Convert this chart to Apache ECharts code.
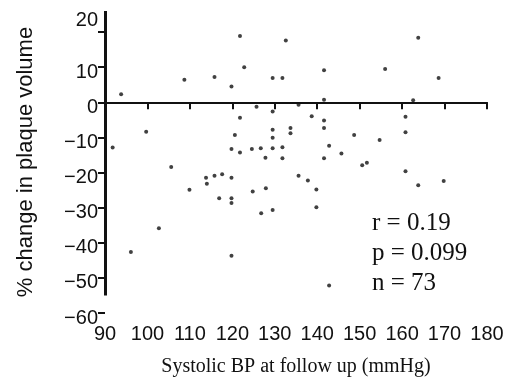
<!DOCTYPE html>
<html>
<head>
<meta charset="utf-8">
<script src="https://cdn.jsdelivr.net/npm/echarts@6/dist/echarts.min.js"></script>
<style>
html, body { margin: 0; padding: 0; background: #fff; }
#chart { width: 509px; height: 385px; }
</style>
</head>
<body>
<div id="chart"></div>
<script>
// systolic BP at follow up (mmHg) and % change in plaque volume
var systolicBP = [
  121.8, 132.6, 122.8, 108.7, 115.8, 129.5, 131.8, 119.8, 93.8, 125.7,
  129.5, 135.6, 121.8, 99.7, 120.6, 129.5, 133.7, 133.7, 129.5, 91.8,
  119.8, 121.8, 124.6, 126.7, 129.5, 131.8, 127.8, 131.8, 105.6, 113.8,
  115.8, 117.6, 119.8, 114.0, 135.6, 109.9, 124.8, 127.9, 116.9, 119.8,
  119.8, 126.8, 129.5, 102.7, 96.1, 119.8,
  163.8, 141.6, 156.0, 168.6, 141.6, 162.6, 138.7, 141.6, 141.6, 160.8,
  160.8, 148.7, 154.7, 142.8, 145.7, 141.6, 150.6, 151.7, 137.8, 139.8,
  160.8, 163.8, 169.8, 139.8, 142.8
];
var plaqueChange = [
  18.9, 17.6, 10.0, 6.4, 7.2, 6.9, 6.9, 4.5, 2.3, -1.3,
  -2.6, -0.7, -4.4, -8.4, -9.3, -7.8, -7.3, -8.8, -10.1, -12.9,
  -13.3, -14.3, -13.3, -13.1, -13.1, -12.8, -15.8, -15.9, -18.4, -21.5,
  -20.9, -20.5, -21.5, -23.2, -20.9, -24.9, -25.4, -24.5, -27.3, -27.3,
  -28.7, -31.6, -30.7, -35.9, -42.6, -43.7,
  18.4, 9.1, 9.5, 6.9, 0.7, 0.6, -4.0, -5.2, -7.3, -4.1,
  -8.5, -9.3, -10.7, -12.4, -14.6, -15.9, -17.9, -17.2, -22.3, -24.8,
  -19.6, -23.6, -22.4, -29.9, -52.2
];
var yTicks = [-60, -50, -40, -30, -20, -10, 0, 10, 20];
var statLines = ['r = 0.19', 'p = 0.099', 'n = 73'];

var points = systolicBP.map(function (x, i) { return [x, plaqueChange[i]]; });

var sans = '"Liberation Sans", Arial, sans-serif';
var serif = '"Liberation Serif", "Times New Roman", serif';

var chart = echarts.init(document.getElementById('chart'));
var option = {
  animation: false,
  backgroundColor: '#fff',
  grid: { left: 105, right: 22, top: 11, bottom: 72 },
  xAxis: {
    type: 'value',
    min: 90,
    max: 180,
    interval: 10,
    name: 'Systolic BP at follow up (mmHg)',
    nameLocation: 'middle',
    nameGap: 44,
    nameTextStyle: { fontFamily: serif, fontSize: 20, color: '#111' },
    splitLine: { show: false },
    axisLine: { lineStyle: { color: '#111', width: 2 } },
    axisTick: { length: 7, lineStyle: { color: '#111', width: 2 } },
    axisLabel: { margin: 11, fontFamily: sans, fontSize: 20, color: '#111' }
  },
  yAxis: {
    type: 'value',
    min: -60,
    max: 26,
    name: '% change in plaque volume',
    nameLocation: 'middle',
    nameRotate: 90,
    nameGap: 68,
    nameTextStyle: { fontFamily: sans, fontSize: 22, color: '#111' },
    splitLine: { show: false },
    axisLine: { show: false },
    axisTick: { customValues: yTicks, length: 7, lineStyle: { color: '#111', width: 2 } },
    axisLabel: {
      customValues: yTicks,
      margin: 7,
      formatter: function (v) {
        var s = String(v).replace('-', '\u2212');
        return v === 20 ? '{t|' + s + '}' : '{d|' + s + '}';
      },
      rich: {
        d: { fontFamily: sans, fontSize: 20, color: '#111', padding: [10, 0, 0, 0] },
        t: { fontFamily: sans, fontSize: 20, color: '#111', padding: [0, 0, 24, 0] }
      }
    }
  },
  graphic: statLines.map(function (t, i) {
    return {
      type: 'text',
      x: 372,
      y: 223 + i * 30,
      style: { text: t, font: '25px ' + serif, fill: '#111', verticalAlign: 'middle' }
    };
  }),
  series: [{
    type: 'scatter',
    clip: false,
    symbol: 'circle',
    symbolSize: 4,
    itemStyle: { color: '#111' },
    data: points,
    markLine: {
      silent: true,
      symbol: 'none',
      label: { show: false },
      lineStyle: { color: '#111', width: 3, type: 'solid' },
      data: [[{ coord: [90, -55] }, { coord: [90, 26] }]]
    }
  }]
};
chart.setOption(option);
window.addEventListener('resize', function () {
  chart.resize();
});
</script>
</body>
</html>
